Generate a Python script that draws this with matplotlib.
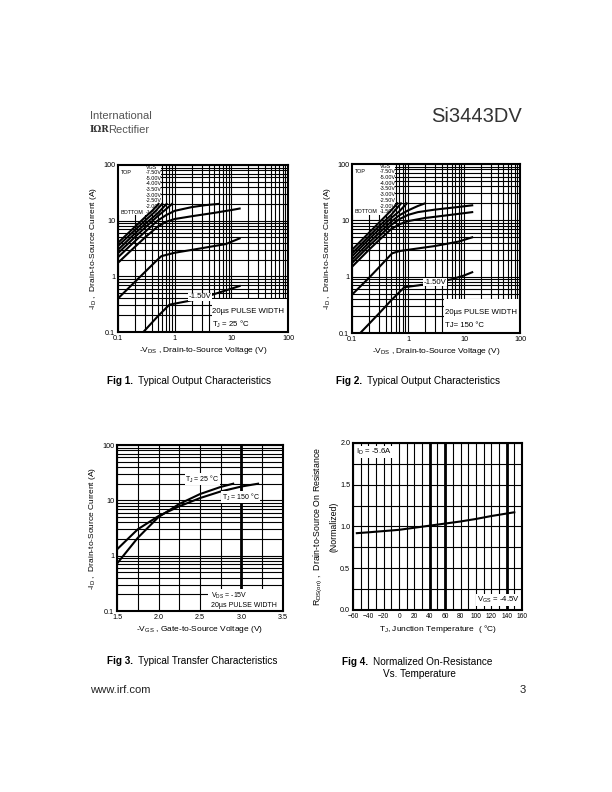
import matplotlib
matplotlib.use("Agg")
import matplotlib.pyplot as plt
import matplotlib.ticker as mticker
from matplotlib.patches import Rectangle

plt.rcParams['font.family'] = ['Liberation Sans', 'DejaVu Sans']
plt.rcParams['mathtext.fontset'] = 'custom'
plt.rcParams['mathtext.rm'] = 'Liberation Sans'
plt.rcParams['mathtext.it'] = 'Liberation Sans'

# Fig 1 - output characteristics, TJ = 25C  (VDS [V], ID [A]) per VGS
vgs_labels = ["-7.50V", "-5.00V", "-4.00V", "-3.50V", "-3.00V", "-2.50V", "-2.00V", "-1.50V"]
f1_750 = [(0.1, 4.0), (0.2, 7.8), (0.3, 11.5), (0.4, 15), (0.52, 20)]
f1_500 = [(0.1, 3.5), (0.2, 6.8), (0.3, 10), (0.45, 14.5), (0.6, 20)]
f1_400 = [(0.1, 3.0), (0.2, 5.9), (0.3, 8.7), (0.5, 13.5), (0.72, 20)]
f1_350 = [(0.1, 2.6), (0.2, 5.1), (0.3, 7.5), (0.5, 12), (0.7, 16), (0.9, 20)]
f1_300 = [(0.1, 2.2), (0.2, 4.3), (0.3, 6.3), (0.5, 10), (0.7, 12.5), (1.0, 15), (2, 17.5), (3.5, 19), (6, 20)]
f1_250 = [(0.1, 1.75), (0.2, 3.4), (0.3, 5.0), (0.5, 7.8), (0.7, 9.5), (1.0, 10.7), (2, 12), (5, 13.8), (10, 15.5), (14, 16.5)]
f1_200 = [(0.1, 0.4), (0.2, 0.8), (0.3, 1.2), (0.45, 1.8), (0.58, 2.3), (1, 2.65), (3, 3.2), (8, 3.8), (14, 4.8)]
f1_150 = [(0.28, 0.1), (0.5, 0.19), (0.81, 0.31), (1.5, 0.35), (3, 0.4), (5, 0.48), (10, 0.6), (14, 0.67)]

# Fig 2 - output characteristics, TJ = 150C
f2_750 = [(0.1, 3.0), (0.2, 6.0), (0.3, 9), (0.45, 13.5), (0.65, 20)]
f2_500 = [(0.1, 2.6), (0.2, 5.2), (0.3, 7.8), (0.5, 12.5), (0.75, 20)]
f2_400 = [(0.1, 2.3), (0.2, 4.6), (0.3, 6.8), (0.5, 11), (0.7, 14.5), (0.95, 20)]
f2_350 = [(0.1, 2.0), (0.2, 4.0), (0.3, 5.9), (0.5, 9.5), (0.7, 12.3), (1.0, 15), (1.5, 18), (2.0, 20)]
f2_300 = [(0.1, 1.75), (0.2, 3.5), (0.3, 5.1), (0.5, 8.3), (0.7, 10.5), (1.0, 12.5), (1.5, 14), (3, 15.5), (8, 17.3), (14, 18.5)]
f2_250 = [(0.1, 1.5), (0.2, 3.0), (0.3, 4.4), (0.5, 7), (0.7, 8.5), (1.0, 9.7), (2, 11), (5, 12.3), (14, 14)]
f2_200 = [(0.1, 0.48), (0.2, 0.95), (0.3, 1.45), (0.52, 2.6), (0.7, 2.85), (1, 3.0), (3, 3.5), (8, 4.2), (14, 5.0)]
f2_150 = [(0.14, 0.1), (0.3, 0.22), (0.5, 0.38), (0.86, 0.65), (1.5, 0.7), (3, 0.78), (6, 0.9), (10, 1.05), (14, 1.2)]

# Fig 3 - transfer characteristics
vgs_25 = [1.5, 1.75, 2.0, 2.25, 2.5, 2.75, 2.9]
id_25 = [0.72, 2.1, 5.0, 8.6, 13, 17.5, 20]
vgs_150 = [1.5, 1.75, 2.0, 2.25, 2.5, 2.75, 3.0, 3.2]
id_150 = [1.3, 3.0, 5.2, 7.8, 11, 14.5, 17.8, 20]

# Fig 4 - normalized on-resistance vs temperature
tj = [-55, -40, -20, 0, 20, 40, 60, 80, 100, 120, 150]
rds = [0.92, 0.93, 0.945, 0.96, 0.985, 1.01, 1.035, 1.06, 1.09, 1.125, 1.17]

TICK = 5.2
LAB = 6.0
NOTE = 5.6
LW = 1.5
GRID = 0.8


def log_log(ax):
    ax.set_xscale('log')
    ax.set_yscale('log')
    ax.set_xlim(0.1, 100)
    ax.set_ylim(0.1, 100)
    ax.xaxis.set_major_locator(mticker.FixedLocator([0.1, 1, 10, 100]))
    ax.xaxis.set_major_formatter(mticker.FixedFormatter(["0.1", "1", "10", "100"]))
    ax.xaxis.set_minor_formatter(mticker.NullFormatter())


def log_y(ax):
    ax.set_yscale('log')
    ax.set_ylim(0.1, 100)
    ax.yaxis.set_major_locator(mticker.FixedLocator([0.1, 1, 10, 100]))
    ax.yaxis.set_major_formatter(mticker.FixedFormatter(["0.1", "1", "10", "100"]))
    ax.yaxis.set_minor_locator(mticker.LogLocator(base=10, subs=range(2, 10)))
    ax.yaxis.set_minor_formatter(mticker.NullFormatter())


def style(ax):
    ax.set_axisbelow(True)
    ax.grid(True, which='both', color='black', linewidth=GRID)
    ax.tick_params(which='both', length=0, labelsize=TICK, pad=2)
    for s in ax.spines.values():
        s.set_linewidth(1.5)


def output_chart(ax, curves, note1, note2, lab_xy):
    log_log(ax)
    log_y(ax)
    ax.xaxis.set_minor_locator(mticker.LogLocator(base=10, subs=range(2, 10)))
    style(ax)
    ax.add_patch(Rectangle((0, 0.70), 0.255, 0.30, transform=ax.transAxes,
                           facecolor='white', edgecolor='none', zorder=1))
    for c in curves:
        ax.plot([p[0] for p in c], [p[1] for p in c], color='black', linewidth=LW, zorder=2)
    ax.text(0.2, 0.985, "VGS", transform=ax.transAxes, fontsize=3.9, ha='center', va='center', zorder=3)
    for i, lab in enumerate(vgs_labels):
        ax.text(0.26, 0.955 - i * 0.034, lab, transform=ax.transAxes, fontsize=3.9,
                ha='right', va='center', zorder=3)
    ax.text(0.015, 0.955, "TOP", transform=ax.transAxes, fontsize=3.9, va='center', zorder=3)
    ax.text(0.015, 0.955 - 7 * 0.034, "BOTTOM", transform=ax.transAxes, fontsize=3.9,
            va='center', zorder=3)
    ax.add_patch(Rectangle((0.55, 0.0), 0.45, 0.2, transform=ax.transAxes,
                           facecolor='white', edgecolor='none', zorder=1))
    ax.text(0.555, 0.12, note1, transform=ax.transAxes, fontsize=NOTE, va='center', zorder=3)
    ax.text(0.555, 0.045, note2, transform=ax.transAxes, fontsize=NOTE, va='center', zorder=3)
    ax.text(lab_xy[0], lab_xy[1], "-1.50V", transform=ax.transAxes, fontsize=NOTE, va='center',
            zorder=3, bbox=dict(facecolor='white', edgecolor='none', pad=0.3))
    ax.set_xlabel(r"-V$_{DS}$ , Drain-to-Source Voltage (V)", fontsize=LAB, labelpad=2)
    ax.set_ylabel(r"-I$_{D}$ ,  Drain-to-Source Current (A)", fontsize=LAB, labelpad=3)


fig = plt.figure(figsize=(6.12, 7.92), dpi=100)

ax1 = fig.add_axes([0.1928, 0.5808, 0.2778, 0.2109])
output_chart(ax1, [f1_750, f1_500, f1_400, f1_350, f1_300, f1_250, f1_200, f1_150],
             "20µs PULSE WIDTH", r"T$_{J}$ = 25 °C", (0.415, 0.21))

ax2 = fig.add_axes([0.5752, 0.5795, 0.2745, 0.2134])
output_chart(ax2, [f2_750, f2_500, f2_400, f2_350, f2_300, f2_250, f2_200, f2_150],
             "20µs PULSE WIDTH", "TJ= 150 °C", (0.425, 0.30))

# Fig 3
ax3 = fig.add_axes([0.1912, 0.2285, 0.2712, 0.2096])
log_y(ax3)
ax3.set_xlim(1.5, 3.5)
ax3.set_xticks([1.5, 2.0, 2.5, 3.0, 3.5])
ax3.set_xticklabels(["1.5", "2.0", "2.5", "3.0", "3.5"])
ax3.xaxis.set_minor_locator(mticker.MultipleLocator(0.25))
style(ax3)
ax3.axvline(3.0, color='black', linewidth=2.0, zorder=0.6)
ax3.plot(vgs_25, id_25, color='black', linewidth=LW, zorder=2)
ax3.plot(vgs_150, id_150, color='black', linewidth=LW, zorder=2)
ax3.text(2.32, 24, r"T$_{J}$ = 25 °C", fontsize=5.0, va='center', zorder=3,
         bbox=dict(facecolor='white', edgecolor='none', pad=0.3))
ax3.text(2.76, 11.3, r"T$_{J}$ = 150 °C", fontsize=5.0, va='center', zorder=3,
         bbox=dict(facecolor='white', edgecolor='none', pad=0.3))
ax3.add_patch(Rectangle((0.55, 0.0), 0.45, 0.13, transform=ax3.transAxes,
                        facecolor='white', edgecolor='none', zorder=1))
ax3.text(0.565, 0.09, r"V$_{DS}$ = -15V", transform=ax3.transAxes, fontsize=5.0, va='center', zorder=3)
ax3.text(0.565, 0.035, "20µs PULSE WIDTH", transform=ax3.transAxes, fontsize=5.0, va='center', zorder=3)
ax3.set_xlabel(r"-V$_{GS}$ , Gate-to-Source Voltage (V)", fontsize=LAB, labelpad=2)
ax3.set_ylabel(r"-I$_{D}$ ,  Drain-to-Source Current (A)", fontsize=LAB, labelpad=3)

# Fig 4
ax4 = fig.add_axes([0.5768, 0.2298, 0.2761, 0.2109])
ax4.set_xlim(-60, 160)
ax4.set_ylim(0, 2.0)
ax4.set_xticks(range(-60, 161, 20))
ax4.set_yticks([0.0, 0.5, 1.0, 1.5, 2.0])
ax4.yaxis.set_major_formatter(mticker.FormatStrFormatter('%.1f'))
ax4.xaxis.set_minor_locator(mticker.MultipleLocator(10))
ax4.yaxis.set_minor_locator(mticker.MultipleLocator(0.25))
style(ax4)
ax4.tick_params(axis='x', labelsize=4.8)
for xv in [40, 60, 140]:
    ax4.axvline(xv, color='black', linewidth=2.0, zorder=0.6)
ax4.plot(tj, rds, color='black', linewidth=LW, zorder=2)
ax4.text(0.02, 0.975, r"I$_{D}$ = -5.6A", transform=ax4.transAxes, fontsize=NOTE, va='top', zorder=3,
         bbox=dict(facecolor='white', edgecolor='none', pad=0.5))
ax4.text(0.985, 0.03, r"V$_{GS}$ = -4.5V", transform=ax4.transAxes, fontsize=NOTE, ha='right',
         va='bottom', zorder=3, bbox=dict(facecolor='white', edgecolor='none', pad=0.5))
ax4.set_xlabel(r"T$_{J}$, Junction Temperature  ( °C)", fontsize=LAB, labelpad=2)
ax4.text(-0.205, 0.5, r"R$_\mathregular{DS(on)}$ ,  Drain-to-Source On Resistance", transform=ax4.transAxes,
         rotation=90, fontsize=6.3, ha='center', va='center')
ax4.text(-0.115, 0.5, "(Normalized)", transform=ax4.transAxes,
         rotation=90, fontsize=6.3, ha='center', va='center')

# page text
fig.text(90 / 612, 1 - 116 / 792, "International", fontsize=8, color='#555555', va='center')
fig.text(90 / 612, 1 - 130 / 792, "IΩR", fontsize=6.5, fontweight='bold', color='#333333',
         va='center', family='DejaVu Serif')
fig.text(108 / 612, 1 - 130 / 792, "Rectifier", fontsize=8, color='#555555', va='center')
fig.text(522 / 612, 1 - 117 / 792, "Si3443DV", fontsize=14.5, color='#333333', ha='right', va='center')

CAP = 7.2
fig.text(107 / 612, 1 - 381 / 792, "Fig 1.", fontsize=CAP, fontweight='bold', va='center')
fig.text(138 / 612, 1 - 381 / 792, "Typical Output Characteristics", fontsize=CAP, va='center')
fig.text(336 / 612, 1 - 381 / 792, "Fig 2.", fontsize=CAP, fontweight='bold', va='center')
fig.text(367 / 612, 1 - 381 / 792, "Typical Output Characteristics", fontsize=CAP, va='center')
fig.text(107 / 612, 1 - 661 / 792, "Fig 3.", fontsize=CAP, fontweight='bold', va='center')
fig.text(138 / 612, 1 - 661 / 792, "Typical Transfer Characteristics", fontsize=CAP, va='center')
fig.text(342 / 612, 1 - 662 / 792, "Fig 4.", fontsize=CAP, fontweight='bold', va='center')
fig.text(373 / 612, 1 - 662 / 792, "Normalized On-Resistance", fontsize=CAP, va='center')
fig.text(383 / 612, 1 - 674 / 792, "Vs. Temperature", fontsize=CAP, va='center')
fig.text(90 / 612, 1 - 690 / 792, "www.irf.com", fontsize=8.1, color='#222222', va='center')
fig.text(520 / 612, 1 - 690 / 792, "3", fontsize=8.1, color='#222222', va='center')

fig.savefig("out.png", dpi=100)
